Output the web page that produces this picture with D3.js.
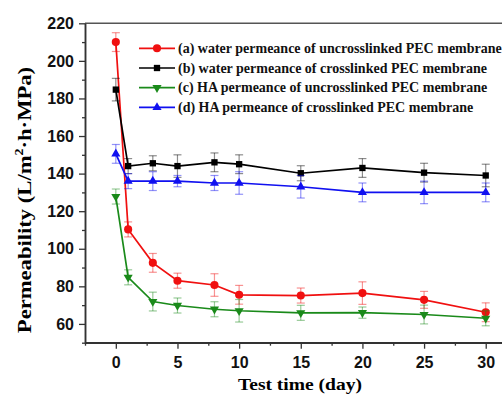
<!DOCTYPE html>
<html>
<head>
<meta charset="utf-8">
<script src="https://cdn.jsdelivr.net/npm/d3@7"></script>
<style>
  html, body { margin: 0; padding: 0; background: #fff; }
  svg { display: block; }
</style>
</head>
<body>
<div id="chart"></div>
<script>
// test time (day)
const days = [0, 1, 3, 5, 8, 10, 15, 20, 25, 30];

// permeability values, L/m2·h·MPa
const waterUncross = [210, 110.3, 92.5, 83, 80.7, 75.5, 75.1, 76.4, 72.8, 66.2];
const waterUncrossErr = [5, 4, 5, 4, 6, 5, 4, 6, 4.5, 5];
const waterCross = [184.7, 144, 145.5, 144, 146, 145, 140.2, 143, 140.5, 139];
const waterCrossErr = [6, 4, 4, 6, 5, 5, 4, 5, 5, 6];
const haUncross = [127.8, 84.8, 71.9, 69.8, 67.8, 67, 65.9, 66, 65, 63];
const haUncrossErr = [4, 4, 5, 4, 4, 6, 4, 3, 5, 4];
const haCross = [150.5, 136, 136, 136, 135, 135, 133, 130, 130, 130];
const haCrossErr = [5, 4, 5, 3, 4, 6, 6, 5, 6, 5];

const xTicks = [0, 5, 10, 15, 20, 25, 30];
const yTicks = [60, 80, 100, 120, 140, 160, 180, 200, 220];

const series = [
    {label: '(a) water permeance of uncrosslinked PEC membrane', values: waterUncross, err: waterUncrossErr, color: '#f01010', shape: 'circle'},
    {label: '(b) water permeance of crosslinked PEC membrane', values: waterCross, err: waterCrossErr, color: '#000000', shape: 'square'},
    {label: '(c) HA permeance of uncrosslinked PEC membrane', values: haUncross, err: haUncrossErr, color: '#1a8a1a', shape: 'down'},
    {label: '(d) HA permeance of crosslinked PEC membrane', values: haCross, err: haCrossErr, color: '#1010f0', shape: 'up'}
];

const W = 502, H = 394;
const plotLeft = 85, plotTop = 23.3, plotBottom = 342.7;

const x = d3.scaleLinear().domain([-2.5, 32.5]).range([plotLeft, plotLeft + 35 * 12.33]);
const y = d3.scaleLinear().domain([50, 220]).range([plotBottom, plotTop]);

const svg = d3.select('#chart').append('svg').attr('width', W).attr('height', H);

const sans = 'Liberation Sans, Arial, sans-serif';
const serif = 'Liberation Serif, Times New Roman, serif';

// frame: top line (right side is cut off in the original)
svg.append('line')
.attr('x1', plotLeft).attr('x2', W + 20)
.attr('y1', plotTop).attr('y2', plotTop)
.attr('stroke', '#555').attr('stroke-width', 1.5);

// axes
const xAxis = d3.axisBottom(x).tickValues(xTicks).tickSize(6).tickSizeOuter(0).tickPadding(8);
const xMinor = d3.axisBottom(x).tickValues(d3.range(-2.5, 33, 5)).tickSize(3).tickSizeOuter(0).tickFormat('');
const yAxis = d3.axisLeft(y).tickValues(yTicks).tickSize(6).tickSizeOuter(0).tickPadding(5);
const yMinor = d3.axisLeft(y).tickValues(d3.range(50, 220, 20)).tickSize(3).tickSizeOuter(0).tickFormat('');

const gx = svg.append('g').attr('transform', `translate(0,${plotBottom})`).call(xAxis);
svg.append('g').attr('transform', `translate(0,${plotBottom})`).call(xMinor);
svg.append('g').attr('transform', `translate(${plotLeft},0)`).call(yAxis);
svg.append('g').attr('transform', `translate(${plotLeft},0)`).call(yMinor);

svg.selectAll('.domain').attr('stroke', '#333').attr('stroke-width', 1.5);
svg.selectAll('.tick line').attr('stroke', '#333').attr('stroke-width', 1.3);
gx.select('.domain').attr('d', `M${plotLeft},0H${W + 20}`);

svg.selectAll('.tick text')
.attr('font-family', sans)
.attr('font-weight', 'bold')
.attr('font-size', 16)
.attr('fill', '#111');

// axis titles
svg.append('text')
.attr('transform', 'translate(300,390) scale(1.15,1)')
.attr('text-anchor', 'middle')
.attr('font-family', serif).attr('font-weight', 'bold').attr('font-size', 17)
.text('Test time (day)');

const yt = svg.append('text')
.attr('transform', 'translate(31,200) rotate(-90) scale(1.16,1)')
.attr('text-anchor', 'middle')
.attr('font-family', serif).attr('font-weight', 'bold').attr('font-size', 19.5);
yt.append('tspan').text('Permeability (L/m');
yt.append('tspan').attr('font-size', 12).attr('dy', -8).text('2');
yt.append('tspan').attr('dy', 8).text('·h·MPa)');

const symbolOf = (shape) => {
    if (shape === 'circle') return d3.symbol().type(d3.symbolCircle).size(52);
    if (shape === 'square') return d3.symbol().type(d3.symbolSquare).size(40);
    return d3.symbol().type(d3.symbolTriangle).size(36);
};

const drawMarker = (g, shape, color, cx, cy) => {
    const rot = shape === 'down' ? ' rotate(180)' : '';
    g.append('path')
    .attr('d', symbolOf(shape)())
    .attr('transform', `translate(${cx},${cy})${rot}`)
    .attr('fill', color);
};

const line = d3.line().x((d) => x(d[0])).y((d) => y(d[1]));

for (const s of series) {
    const pts = days.map((d, i) => [d, s.values[i], s.err[i]]);
    const g = svg.append('g');

    // error bars, drawn lighter
    const eb = g.append('g').attr('stroke', s.color).attr('stroke-opacity', 0.45).attr('stroke-width', 1.2);
    for (const p of pts) {
        const cx = x(p[0]);
        eb.append('line').attr('x1', cx).attr('x2', cx).attr('y1', y(p[1] - p[2])).attr('y2', y(p[1] + p[2]));
        eb.append('line').attr('x1', cx - 4).attr('x2', cx + 4).attr('y1', y(p[1] - p[2])).attr('y2', y(p[1] - p[2]));
        eb.append('line').attr('x1', cx - 4).attr('x2', cx + 4).attr('y1', y(p[1] + p[2])).attr('y2', y(p[1] + p[2]));
    }

    g.append('path').datum(pts)
    .attr('fill', 'none').attr('stroke', s.color).attr('stroke-width', 1.7)
    .attr('d', line);

    for (const p of pts) {
        drawMarker(g, s.shape, s.color, x(p[0]), y(p[1]));
    }
}

// legend
const legend = svg.append('g');
series.forEach((s, i) => {
    const ly = 48.3 + i * 19.7;
    legend.append('line')
    .attr('x1', 139).attr('x2', 175).attr('y1', ly).attr('y2', ly)
    .attr('stroke', s.color).attr('stroke-width', 1.7);
    drawMarker(legend, s.shape, s.color, 157, ly);
    legend.append('text')
    .attr('x', 178).attr('y', ly + 4.5)
    .attr('font-family', serif).attr('font-weight', 'bold').attr('font-size', 14)
    .attr('fill', '#111')
    .text(s.label);
});
</script>
</body>
</html>
